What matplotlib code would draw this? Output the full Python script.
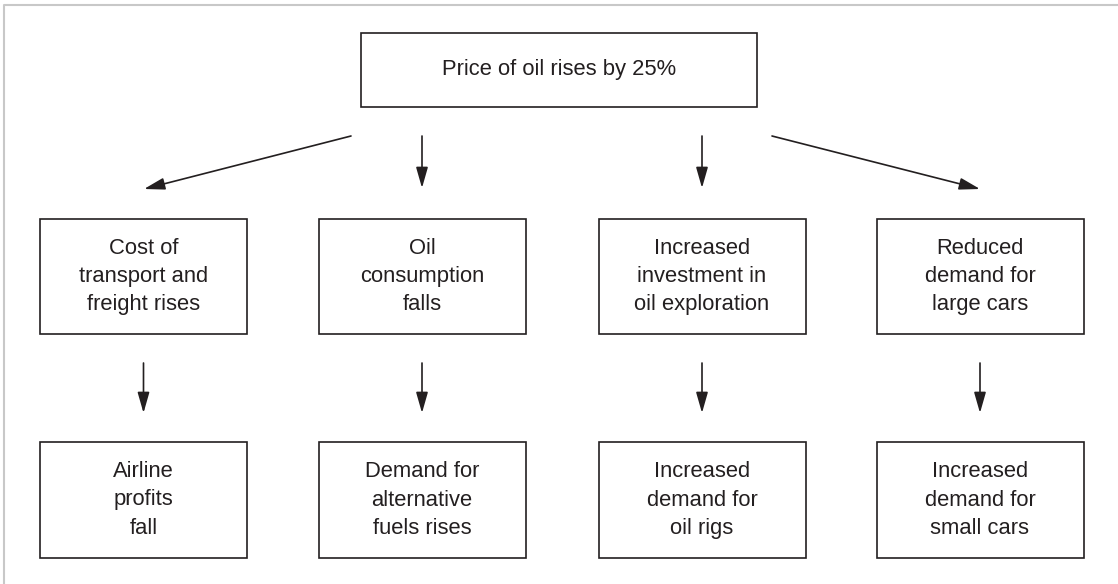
import matplotlib.pyplot as plt
from matplotlib.patches import Rectangle

# flowchart text
top_label = "Price of oil rises by 25%"
middle_labels = ["Cost of\ntransport and\nfreight rises",
                 "Oil\nconsumption\nfalls",
                 "Increased\ninvestment in\noil exploration",
                 "Reduced\ndemand for\nlarge cars"]
bottom_labels = ["Airline\nprofits\nfall",
                 "Demand for\nalternative\nfuels rises",
                 "Increased\ndemand for\noil rigs",
                 "Increased\ndemand for\nsmall cars"]

ink = '#231f20'
plt.rcParams['font.family'] = ['Liberation Sans', 'DejaVu Sans']

fig = plt.figure(figsize=(11.18, 5.84), dpi=100)
ax = fig.add_axes([0, 0, 1, 1])
ax.set_xlim(0, 1118)
ax.set_ylim(584, 0)
ax.axis('off')

# light frame (left and top)
ax.plot([3.5, 3.5, 1118], [584, 4.5, 4.5], color='#c8c8c8', lw=1.5)

def box(x0, y0, x1, y1, text):
    ax.add_patch(Rectangle((x0, y0), x1 - x0, y1 - y0, fill=False,
                           ec=ink, lw=1.2))
    ax.text((x0 + x1) / 2, (y0 + y1) / 2, text, ha='center', va='center',
            fontsize=15.8, color=ink, linespacing=1.45)

def arrow(x0, y0, x1, y1):
    ax.annotate('', xy=(x1, y1), xytext=(x0, y0),
                arrowprops=dict(arrowstyle='-|>,head_length=0.7,head_width=0.2',
                                mutation_scale=18, lw=1.2, color=ink,
                                shrinkA=0, shrinkB=0))

box(361, 33, 757, 107, top_label)

centers = [143.5, 422, 702, 980]
half_w = 103.5
for cx, mid, bot in zip(centers, middle_labels, bottom_labels):
    box(cx - half_w, 219, cx + half_w, 334, mid)
    box(cx - half_w, 442, cx + half_w, 558, bot)
    arrow(cx, 363, cx, 413)

# arrows from the top box
arrow(351, 136, 144, 189)
arrow(422, 136, 422, 188)
arrow(702, 136, 702, 188)
arrow(772, 136, 980, 189)

plt.savefig('out.png', dpi=100)
